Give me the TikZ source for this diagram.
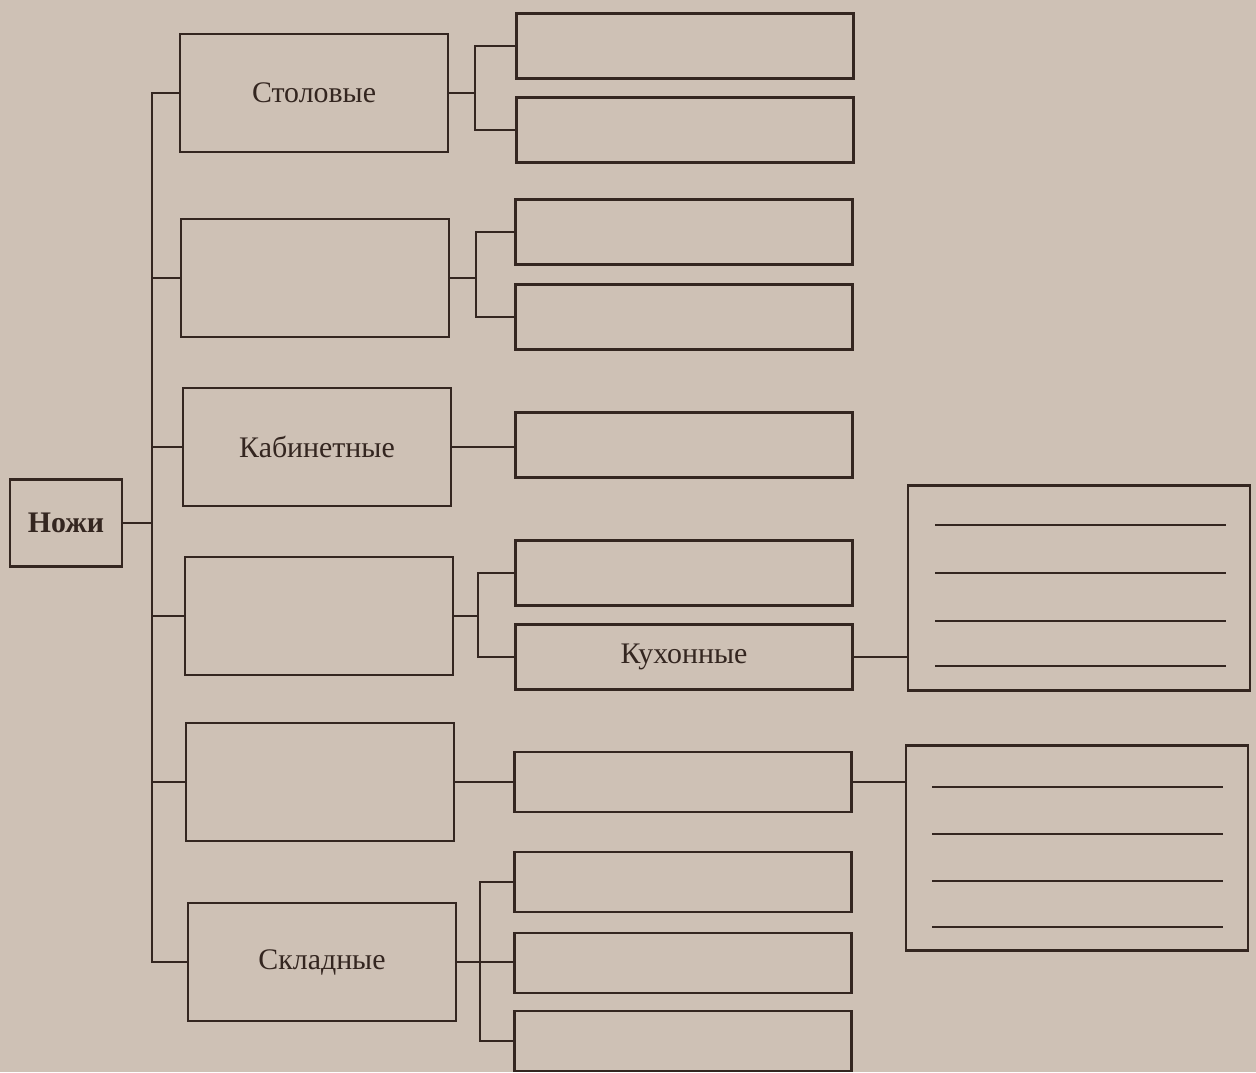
\documentclass[tikz,border=0pt]{standalone}
\usepackage{fontspec}
\setmainfont{Liberation Serif}
\definecolor{paper}{RGB}{206,193,181}
\definecolor{ink}{RGB}{52,38,32}
\begin{document}
\begin{tikzpicture}[x=0.02cm, y=-0.02cm, line width=1.3pt, draw=ink,
  every node/.style = {shape=rectangle, draw=ink, line width=1.3pt, align=center,
    text=ink, font=\fontsize{17}{20}\selectfont, inner sep=0pt},
  kind/.style = {minimum width=5.36cm, minimum height=2.36cm},
  sort/.style = {minimum width=6.74cm, minimum height=1.3cm},
  notes/.style = {minimum width=6.84cm, minimum height=4.1cm},
  rule/.style = {line width=0.8pt}]
  \fill[paper] (0,0) rectangle (1256,1072);
  \useasboundingbox (0,0) rectangle (1256,1072);
  \node[minimum width=2.24cm, minimum height=1.74cm, font=\bfseries\fontsize{17}{20}\selectfont] (nozhi) at (66,523) {Ножи};
  \node[kind] (stol) at (314,93) {Столовые};
  \node[kind] (k2) at (315,278) {};
  \node[kind] (kab) at (317,447) {Кабинетные};
  \node[kind] (k4) at (319,616) {};
  \node[kind] (k5) at (320,782) {};
  \node[kind] (skl) at (322,962) {Складные};
  \node[sort] (s1a) at (685,46) {};
  \node[sort] (s1b) at (685,130) {};
  \node[sort] (s2a) at (684,232) {};
  \node[sort] (s2b) at (684,317) {};
  \node[sort] (s3a) at (684,445) {};
  \node[sort] (s4a) at (684,573) {};
  \node[sort] (kuh) at (684,657) {Кухонные};
  \node[sort, minimum height=1.2cm] (s5a) at (683,782) {};
  \node[sort, minimum height=1.2cm] (s6a) at (683,882) {};
  \node[sort, minimum height=1.2cm] (s6b) at (683,963) {};
  \node[sort, minimum height=1.2cm] (s6c) at (683,1041) {};
  \node[notes] (n1) at (1079,588) {};
  \node[notes] (n2) at (1077,848) {};
  % lines for writing
  \foreach \y in {525,573,621,666} \draw[rule] (935,\y) -- (1226,\y);
  \foreach \y in {787,834,881,927} \draw[rule] (932,\y) -- (1223,\y);
  % trunk
  \coordinate (trunk) at (152,523);
  \draw (nozhi) -- (trunk);
  \foreach \k in {stol,k2,kab,k4,k5,skl} \draw (trunk) |- (\k.west);
  % forks
  \coordinate (f1) at (475,93);
  \coordinate (f2) at (476,278);
  \coordinate (f4) at (478,616);
  \coordinate (f6) at (480,962);
  \draw (stol) -- (f1) |- (s1a.west); \draw (f1) |- (s1b.west);
  \draw (k2) -- (f2) |- (s2a.west); \draw (f2) |- (s2b.west);
  \draw (kab) -- (kab -| s3a.west);
  \draw (k4) -- (f4) |- (s4a.west); \draw (f4) |- (kuh.west);
  \draw (k5) -- (k5 -| s5a.west);
  \draw (skl) -- (skl -| s6b.west); \draw (f6) |- (s6a.west); \draw (f6) |- (s6c.west);
  \draw (kuh) -- (n1.west |- kuh);
  \draw (s5a) -- (n2.west |- s5a);
\end{tikzpicture}
\end{document}
